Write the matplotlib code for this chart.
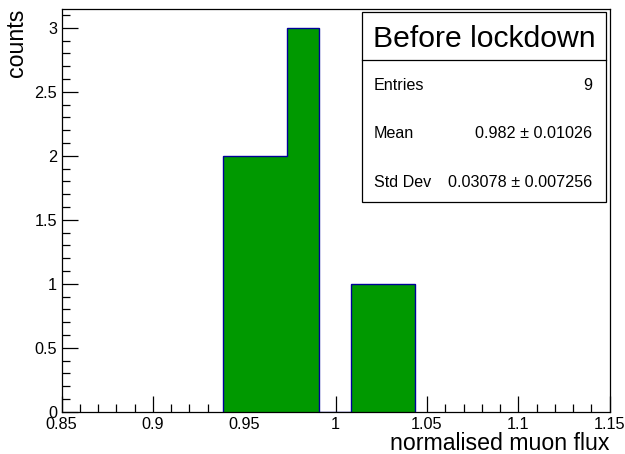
import matplotlib
matplotlib.use("Agg")
import matplotlib.pyplot as plt
from matplotlib.patches import Rectangle
from matplotlib.ticker import FixedLocator, MultipleLocator

# Histogram contents
bin_edges = [0.9382, 0.9558, 0.9733, 0.9909, 1.0085, 1.0261, 1.0437]
counts = [2, 2, 3, 0, 1, 1]

x_ticks = [0.85, 0.9, 0.95, 1.0, 1.05, 1.1, 1.15]
x_tick_labels = ["0.85", "0.9", "0.95", "1", "1.05", "1.1", "1.15"]
y_ticks = [0, 0.5, 1, 1.5, 2, 2.5, 3]
y_tick_labels = ["0", "0.5", "1", "1.5", "2", "2.5", "3"]

stats_title = "Before lockdown"
stats_rows = [("Entries", "9"),
              ("Mean", "0.982 \u00b1 0.01026"),
              ("Std Dev", "0.03078 \u00b1 0.007256")]

plt.rcParams["font.family"] = ["Liberation Sans", "DejaVu Sans"]

W, H = 625, 454
fig = plt.figure(figsize=(W / 100, H / 100), dpi=100)
fig.patch.set_facecolor("white")

def px(x, y):
    return x / W, 1 - y / H

L, R, T, B = 61.5, 609.7, 8.5, 411.7
ax = fig.add_axes([L / W, 1 - B / H, (R - L) / W, (B - T) / H])

ax.stairs(counts, bin_edges, fill=True, facecolor="#009900",
          edgecolor="#000099", linewidth=1.0, zorder=2)

ax.set_xlim(0.85, 1.15)
ax.set_ylim(0, 3.15)

ax.xaxis.set_major_locator(FixedLocator(x_ticks))
ax.set_xticklabels(x_tick_labels)
ax.xaxis.set_minor_locator(MultipleLocator(0.01))
ax.yaxis.set_major_locator(FixedLocator(y_ticks))
ax.set_yticklabels(y_tick_labels)
ax.yaxis.set_minor_locator(MultipleLocator(0.1))

ax.tick_params(which="both", direction="in", top=False, right=False,
               labelsize=11.7, colors="black", width=0.9)
ax.tick_params(which="major", length=11.5)
ax.tick_params(which="minor", length=5.8)
ax.tick_params(axis="x", which="major", pad=3.5)
ax.tick_params(axis="y", which="major", pad=3.2)
for s in ax.spines.values():
    s.set_linewidth(0.9)
    s.set_color("black")

fig.text(*px(R, 450.5), "normalised muon flux", ha="right", va="baseline",
         fontsize=16.7)
fig.text(*px(17, 8.5), "counts", ha="center", va="top", rotation=90,
         fontsize=16.7)

# Statistics box
bx0, bx1, by0, by1, bsep = 361.7, 606.3, 12, 202.3, 60
fx0, fy1 = px(bx0, by1)
fx1, fy0 = px(bx1, by0)
fig.patches.append(Rectangle((fx0, fy1), fx1 - fx0, fy0 - fy1,
                             transform=fig.transFigure, facecolor="white",
                             edgecolor="black", linewidth=0.9, zorder=5))
sx, sy = px(bx0, bsep)
fig.lines.append(plt.Line2D([fx0, fx1], [sy, sy], transform=fig.transFigure,
                            color="black", linewidth=0.9, zorder=6))
fig.text(*px((bx0 + bx1) / 2, 46.7), stats_title,
         ha="center", va="baseline", fontsize=21.7, zorder=7)
for i, (name, val) in enumerate(stats_rows):
    yy = 90 + i * 48.3
    fig.text(*px(374, yy), name, ha="left", va="baseline", fontsize=11.6,
             zorder=7)
    fig.text(*px(592.5, yy), val, ha="right", va="baseline", fontsize=11.6,
             zorder=7)

fig.savefig("out.png", dpi=100)
